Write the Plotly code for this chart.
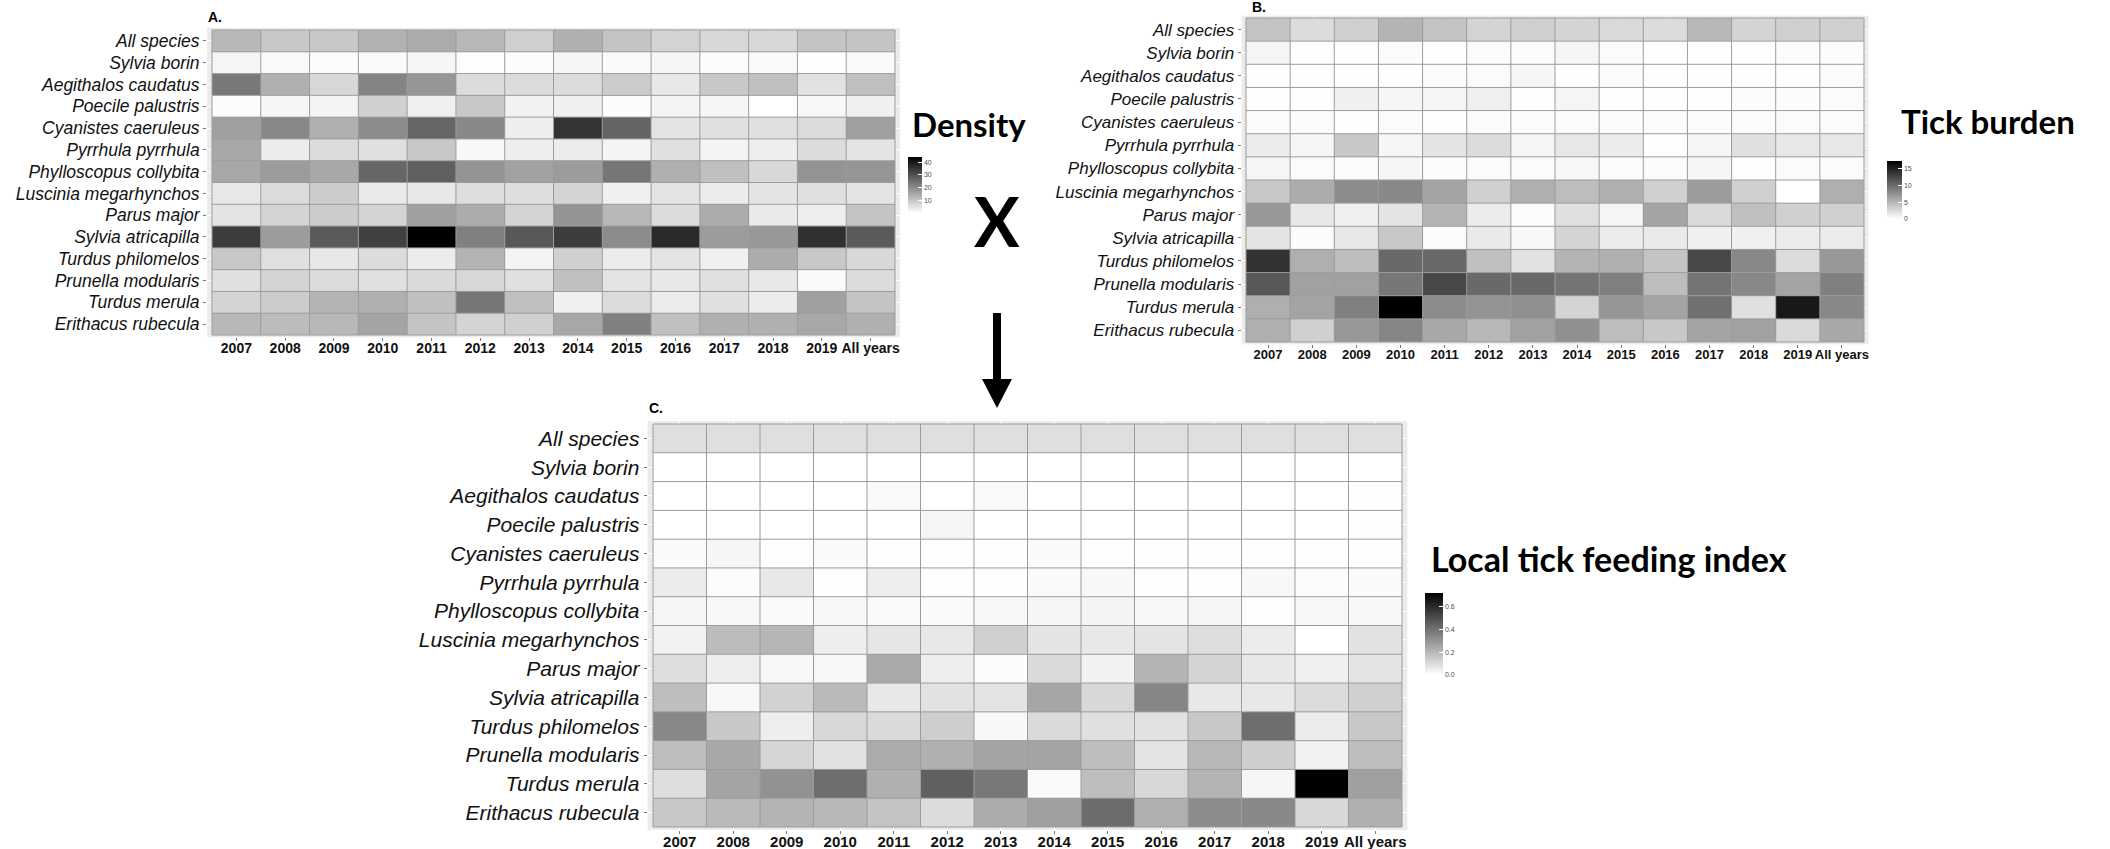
import plotly.graph_objects as go

species = ["All species", "Sylvia borin", "Aegithalos caudatus", "Poecile palustris",
           "Cyanistes caeruleus", "Pyrrhula pyrrhula", "Phylloscopus collybita",
           "Luscinia megarhynchos", "Parus major", "Sylvia atricapilla",
           "Turdus philomelos", "Prunella modularis", "Turdus merula", "Erithacus rubecula"]
years = ["2007", "2008", "2009", "2010", "2011", "2012", "2013", "2014", "2015",
         "2016", "2017", "2018", "2019", "All years"]

# A. density
density = [
    [12.3, 9.5, 9.5, 13.3, 14.3, 12.3, 8.1, 13.6, 10.2, 7.4, 6.7, 6.7, 10.2, 10.2],
    [1.7, 0.9, 0.5, 0.9, 1.6, 0.3, 0.5, 1.6, 0.9, 1.6, 0.5, 0.9, 0.2, 0.9],
    [23.3, 13.6, 6.7, 21.2, 18.1, 6.0, 6.0, 6.0, 8.8, 4.0, 9.5, 10.9, 5.0, 10.9],
    [0.5, 1.6, 1.9, 8.1, 2.6, 9.5, 2.2, 2.6, 0.5, 1.9, 1.6, 0.0, 1.2, 2.6],
    [16.4, 20.5, 13.6, 19.8, 26.4, 20.5, 2.9, 35.0, 26.7, 4.7, 5.3, 5.3, 6.0, 16.4],
    [15.0, 3.3, 6.0, 5.3, 9.5, 1.2, 2.9, 3.3, 1.9, 5.3, 1.9, 2.9, 6.0, 4.7],
    [15.0, 17.1, 15.0, 26.4, 27.4, 18.5, 16.0, 17.1, 23.6, 13.6, 10.9, 6.7, 18.5, 18.1],
    [4.0, 6.0, 8.8, 3.6, 4.0, 5.7, 5.7, 7.4, 2.6, 4.7, 3.3, 4.7, 5.3, 4.7],
    [4.7, 7.4, 8.8, 7.4, 16.4, 14.3, 7.4, 18.5, 12.3, 6.0, 14.3, 3.6, 2.9, 10.2],
    [33.6, 17.1, 28.5, 32.9, 44.0, 21.9, 28.8, 33.6, 19.8, 36.7, 17.1, 17.8, 35.7, 28.5],
    [9.5, 5.3, 4.0, 6.0, 3.3, 12.9, 1.9, 8.1, 3.3, 4.7, 2.6, 14.3, 9.5, 6.7],
    [5.3, 7.4, 6.0, 5.3, 6.4, 6.7, 5.3, 10.9, 4.7, 4.0, 5.3, 4.0, 0.9, 6.0],
    [7.4, 8.8, 12.9, 13.6, 10.9, 23.6, 10.9, 2.6, 6.0, 3.3, 5.3, 3.3, 16.4, 10.2],
    [12.3, 11.6, 12.3, 15.7, 10.2, 7.4, 8.1, 15.0, 21.9, 10.9, 13.6, 13.6, 15.0, 13.6],
]

# B. tick burden
tick_burden = [
    [4.0, 2.4, 3.2, 5.1, 4.0, 2.9, 3.2, 2.9, 2.6, 2.4, 4.8, 2.9, 3.2, 3.2],
    [0.7, 0.1, 0.1, 0.3, 0.1, 0.2, 0.2, 0.6, 0.3, 0.1, 0.1, 0.1, 0.2, 0.2],
    [0.1, 0.1, 0.1, 0.1, 0.2, 0.3, 0.6, 0.1, 0.3, 0.1, 0.1, 0.1, 0.1, 0.2],
    [0.1, 0.1, 1.0, 0.6, 0.7, 1.0, 0.1, 0.7, 0.1, 0.1, 0.1, 0.2, 0.2, 0.3],
    [0.3, 0.3, 0.1, 0.3, 0.1, 0.2, 0.2, 0.3, 0.2, 0.2, 0.2, 0.3, 0.3, 0.3],
    [1.3, 0.6, 3.7, 0.7, 1.8, 2.4, 0.6, 1.6, 1.3, 0.1, 0.6, 2.1, 1.6, 1.6],
    [0.7, 0.3, 0.3, 0.6, 0.2, 0.3, 0.2, 0.5, 0.3, 0.3, 0.6, 0.1, 0.3, 0.3],
    [3.7, 5.6, 7.8, 8.1, 6.2, 3.2, 5.4, 4.5, 5.4, 3.2, 6.7, 3.2, 0.0, 5.4],
    [7.0, 1.6, 1.0, 1.8, 5.1, 1.3, 0.3, 2.1, 0.7, 6.2, 2.6, 4.3, 3.2, 3.2],
    [1.8, 0.2, 1.6, 3.7, 0.3, 1.4, 0.5, 2.9, 1.3, 1.4, 1.0, 1.0, 1.3, 1.3],
    [13.9, 5.4, 4.5, 10.2, 10.2, 4.3, 2.0, 5.1, 5.4, 4.0, 12.4, 8.1, 2.4, 7.0],
    [11.3, 6.4, 6.4, 9.2, 12.4, 10.2, 10.2, 9.4, 8.6, 4.5, 9.4, 8.1, 6.2, 8.6],
    [5.4, 6.2, 8.6, 17.3, 7.8, 7.3, 7.5, 2.9, 7.1, 6.2, 9.7, 2.1, 15.7, 8.1],
    [5.4, 3.2, 7.0, 8.3, 5.9, 4.8, 6.4, 7.5, 4.5, 3.7, 6.2, 6.4, 2.6, 5.9],
]

# C. local tick feeding index
ltfi = [
    [0.09, 0.09, 0.09, 0.09, 0.09, 0.09, 0.09, 0.09, 0.09, 0.09, 0.09, 0.09, 0.09, 0.09],
    [0.0, 0.0, 0.0, 0.0, 0.0, 0.0, 0.0, 0.0, 0.0, 0.0, 0.0, 0.0, 0.0, 0.0],
    [0.0, 0.0, 0.0, 0.0, 0.014, 0.0, 0.014, 0.0, 0.0, 0.0, 0.0, 0.0, 0.0, 0.003],
    [0.0, 0.0, 0.0, 0.0, 0.0, 0.028, 0.0, 0.0, 0.0, 0.0, 0.0, 0.0, 0.0, 0.003],
    [0.014, 0.025, 0.003, 0.014, 0.003, 0.003, 0.003, 0.014, 0.003, 0.003, 0.003, 0.003, 0.003, 0.003],
    [0.054, 0.008, 0.065, 0.003, 0.048, 0.003, 0.003, 0.014, 0.02, 0.003, 0.003, 0.02, 0.008, 0.014],
    [0.025, 0.02, 0.014, 0.02, 0.014, 0.014, 0.02, 0.025, 0.031, 0.02, 0.025, 0.003, 0.02, 0.02],
    [0.037, 0.189, 0.206, 0.048, 0.071, 0.065, 0.133, 0.076, 0.065, 0.076, 0.093, 0.054, 0.0, 0.082],
    [0.093, 0.048, 0.02, 0.02, 0.24, 0.048, 0.008, 0.104, 0.037, 0.212, 0.121, 0.065, 0.042, 0.076],
    [0.184, 0.02, 0.127, 0.195, 0.065, 0.082, 0.076, 0.251, 0.11, 0.342, 0.065, 0.065, 0.099, 0.133],
    [0.336, 0.155, 0.048, 0.11, 0.104, 0.138, 0.02, 0.104, 0.088, 0.082, 0.155, 0.41, 0.054, 0.155],
    [0.184, 0.246, 0.116, 0.082, 0.234, 0.223, 0.257, 0.257, 0.184, 0.076, 0.2, 0.138, 0.037, 0.184],
    [0.093, 0.257, 0.308, 0.41, 0.223, 0.449, 0.381, 0.014, 0.184, 0.11, 0.212, 0.025, 0.72, 0.268],
    [0.155, 0.195, 0.212, 0.2, 0.167, 0.099, 0.234, 0.268, 0.415, 0.223, 0.325, 0.336, 0.11, 0.223],
]

W, H = 2110, 849
grey = [[0, "#ffffff"], [1, "#000000"]]

# panel placement in pixels: tile block left, right, top, bottom
panels = [
    dict(z=density, zmax=44, box=(212, 895, 30, 335), ax="", lab=17.5, xlab=14,
         cb=dict(x=908, top=157, len=56, thick=14, vals=[10, 20, 30, 40], fmt="")),
    dict(z=tick_burden, zmax=17.3, box=(1246, 1864, 18, 342), ax="2", lab=17, xlab=13,
         cb=dict(x=1887, top=161, len=58, thick=15, vals=[0, 5, 10, 15], fmt="")),
    dict(z=ltfi, zmax=0.72, box=(653, 1402, 424, 827), ax="3", lab=21, xlab=15,
         cb=dict(x=1425, top=593, len=82, thick=18, vals=[0, 0.2, 0.4, 0.6], fmt=".1f")),
]

fig = go.Figure()
shapes = []
layout = {}
n = len(years)
m = len(species)

for p in panels:
    l, r, t, b = p["box"]
    cw = (r - l) / n
    ch = (b - t) / m
    cb = p["cb"]
    fig.add_trace(go.Heatmap(
        z=p["z"], x=years, y=species, zmin=0, zmax=p["zmax"], colorscale=grey,
        xaxis="x" + p["ax"], yaxis="y" + p["ax"],
        colorbar=dict(x=cb["x"] / W, xanchor="left", y=1 - cb["top"] / H, yanchor="top",
                      len=cb["len"], lenmode="pixels", thickness=cb["thick"],
                      thicknessmode="pixels", xpad=0, ypad=0, outlinewidth=0,
                      tickvals=cb["vals"], tickformat=cb["fmt"], ticks="inside",
                      ticklen=4, tickcolor="white",
                      tickfont=dict(family="Liberation Sans, Arial", size=7, color="#4d4d4d")),
    ))
    layout["xaxis" + p["ax"]] = dict(
        domain=[(l - 0.1 * cw) / W, (r + 0.1 * cw) / W], range=[-0.6, n - 0.4],
        anchor="y" + p["ax"], type="category", showgrid=True, gridcolor="white",
        zeroline=False, ticks="outside", ticklen=3, tickcolor="#777", tickangle=0,
        automargin=False, ticklabelstandoff=-5,
        tickfont=dict(family="Liberation Sans, Arial", size=p["xlab"], color="#111",
                      weight="bold"),
    )
    layout["yaxis" + p["ax"]] = dict(
        domain=[1 - (b + 0.1 * ch) / H, 1 - (t - 0.1 * ch) / H], range=[m - 0.4, -0.6],
        anchor="x" + p["ax"], type="category", showgrid=True, gridcolor="white",
        zeroline=False, ticks="outside", ticklen=3, tickcolor="#777", automargin=False,
        tickfont=dict(family="Liberation Sans, Arial", size=p["lab"], color="#111",
                      style="italic"),
    )
    # tile borders
    for i in range(n + 1):
        shapes.append(dict(type="line", xref="x" + p["ax"], yref="y" + p["ax"],
                           x0=i - 0.5, x1=i - 0.5, y0=-0.5, y1=m - 0.5,
                           line=dict(color="#9c9c9c", width=1)))
    for j in range(m + 1):
        shapes.append(dict(type="line", xref="x" + p["ax"], yref="y" + p["ax"],
                           x0=-0.5, x1=n - 0.5, y0=j - 0.5, y1=j - 0.5,
                           line=dict(color="#9c9c9c", width=1)))


def px(x, y):
    return f"{x / W:.5f},{1 - y / H:.5f}"


# down arrow between the panels
arrow = ("M " + px(993, 313) + " L " + px(1001, 313) + " L " + px(1001, 379) +
         " L " + px(1012, 379) + " L " + px(997, 408) + " L " + px(982, 379) +
         " L " + px(993, 379) + " Z")
shapes.append(dict(type="path", xref="paper", yref="paper", path=arrow,
                   fillcolor="black", line=dict(width=0)))


def note(text, x, y, size, family, anchor="left"):
    return dict(text=text, x=x / W, y=1 - y / H, xref="paper", yref="paper",
                xanchor=anchor, yanchor="middle", showarrow=False,
                font=dict(family=family, size=size, color="black"))


annotations = [
    note("<b>A.</b>", 206, 17, 14, "Liberation Sans, Arial"),
    note("<b>B.</b>", 1250, 7, 14, "Liberation Sans, Arial"),
    note("<b>C.</b>", 647, 408, 14, "Liberation Sans, Arial"),
    note("<b>Density</b>", 910, 124, 33, "Lato"),
    note("<b>Tick burden</b>", 1899, 121, 33, "Lato"),
    note("<b>Local tick feeding index</b>", 1429, 558, 34, "Lato"),
    note("<b>X</b>", 997, 220, 68, "Lato", anchor="center"),
]

fig.update_layout(
    width=W, height=H, margin=dict(l=0, r=0, t=0, b=0),
    paper_bgcolor="white", plot_bgcolor="#ebebeb",
    shapes=shapes, annotations=annotations, **layout,
)
fig.write_html("out.html", config={"displayModeBar": False},
               post_script="document.body.style.margin='0';document.body.style.overflow='hidden';")
